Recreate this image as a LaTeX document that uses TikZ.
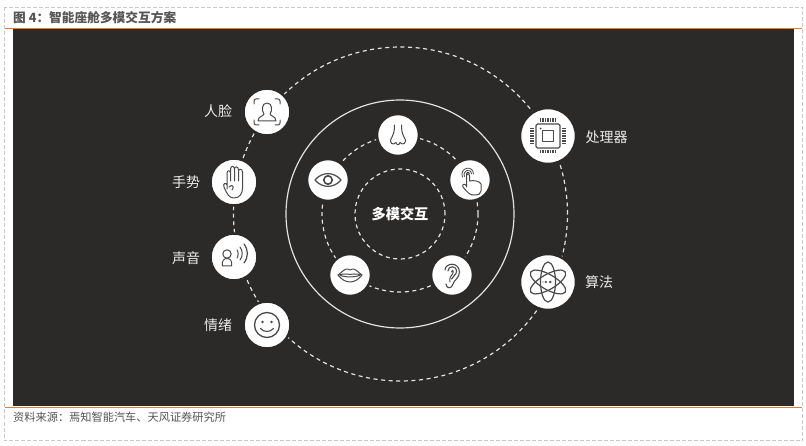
\documentclass[tikz,border=0pt]{standalone}
\usepackage{fontspec}
\setmainfont{Noto Sans CJK SC}
\definecolor{panel}{HTML}{2B2A29}
\definecolor{rule}{HTML}{F47B20}
\definecolor{rulelow}{HTML}{D9813F}
\definecolor{frame}{HTML}{C8C8C8}
\definecolor{ink}{HTML}{555555}
\definecolor{icon}{HTML}{4A4A4A}
\definecolor{ring}{HTML}{E2E2E2}
\tikzset{
  hub/.style={circle,fill=white,draw=panel,line width=2.5pt,minimum size=#1,inner sep=0pt},
  dashring/.style={circle,draw=ring,line width=1.2pt,dash pattern=on 4pt off 3.6pt,minimum size=#1,inner sep=0pt},
  solidring/.style={circle,draw=ring,line width=1.2pt,minimum size=#1,inner sep=0pt},
  lab/.style={text=white!92!black,font=\fontsize{14}{16}\selectfont,inner sep=0pt,draw=none},
  ic/.style={draw=icon,line width=1pt,line cap=round,line join=round,fill=none}
}
\begin{document}
\begin{tikzpicture}[x=1pt,y=-1pt]
\useasboundingbox (0,0) rectangle (806,446);
\fill[white] (0,0) rectangle (806,446);
\fill[panel] (13,29) rectangle (794,406);
\draw[frame,line width=1pt,dash pattern=on 4pt off 2pt] (4.5,7.5) rectangle (802.5,440.5);
\draw[rule,line width=1.4pt] (5,28.5) -- (802,28.5);
\draw[rulelow,line width=1pt] (5,407.3) -- (802,407.3);
\node[anchor=west,inner sep=0pt,text=ink,font=\fontsize{12.7}{14}\selectfont\bfseries] (title) at (13,18) {图 4：智能座舱多模交互方案};
\node[anchor=west,inner sep=0pt,text=ink,font=\fontsize{11.2}{13}\selectfont] (source) at (13,417) {资料来源：焉知智能汽车、天风证券研究所};
% rings
\node[dashring=334pt] (outer) at (400.5,214) {};
\node[solidring=228pt] (solid) at (400,214) {};
\node[dashring=156pt] (middle) at (400,214) {};
\node[dashring=90pt] (inner) at (400,214) {};
\node[text=white,font=\fontsize{14.2}{16}\selectfont\bfseries,inner sep=0pt] (center) at (400,214) {多模交互};
% hubs
\node[hub=47pt] (face) at (267,112) {};
\node[hub=47pt] (hand) at (234,182) {};
\node[hub=47pt] (voice) at (234,257) {};
\node[hub=47pt] (smile) at (267,325) {};
\node[hub=56pt] (chip) at (548,136) {};
\node[hub=56pt] (atom) at (548,282) {};
\node[hub=42pt] (nose) at (398,135) {};
\node[hub=42pt] (eye) at (328,180) {};
\node[hub=42pt] (touch) at (470,180) {};
\node[hub=42pt] (lips) at (350,275) {};
\node[hub=42pt] (ear) at (452,275) {};
% labels
\node[lab] (lface) at (218,111) {人脸};
\node[lab] (lhand) at (186,182) {手势};
\node[lab] (lvoice) at (186,258) {声音};
\node[lab] (lsmile) at (218,325) {情绪};
\node[lab] (lchip) at (606.5,137) {处理器};
\node[lab] (latom) at (599,282) {算法};
% face icon
\begin{scope}[shift={(267,112)}]
\draw[ic] (-13,-8) -- (-13,-11) arc[start angle=180,end angle=270,radius=2] -- (-8,-13);
\draw[ic] (13,-8) -- (13,-11) arc[start angle=0,end angle=-90,radius=2] -- (8,-13);
\draw[ic] (-13,8) -- (-13,11) arc[start angle=180,end angle=90,radius=2] -- (-8,13);
\draw[ic] (13,8) -- (13,11) arc[start angle=0,end angle=90,radius=2] -- (8,13);
\draw[ic] (-3,2) .. controls (-5.5,-1) and (-5.5,-9) .. (0,-9) .. controls (5.5,-9) and (5.5,-1) .. (3,2) .. controls (3,4) and (9,4) .. (9,9) -- (-9,9) .. controls (-9,4) and (-3,4) .. (-3,2) -- cycle;
\end{scope}
% hand icon
\begin{scope}[shift={(234,182)}]
\draw[ic] (-7,7) -- (-7,-9) .. controls (-7,-12) and (-3.5,-12) .. (-3.5,-9) -- (-3.5,-1)
 (-3.5,-9) -- (-3.5,-13) .. controls (-3.5,-16.5) and (0.5,-16.5) .. (0.5,-13) -- (0.5,-1)
 (0.5,-13) .. controls (0.5,-16) and (4.5,-16) .. (4.5,-12) -- (4.5,-1)
 (4.5,-11) .. controls (4.5,-13.5) and (8.5,-13.5) .. (8.5,-10) -- (8.5,6) .. controls (8.5,11) and (6,16) .. (0,16) .. controls (-5,16) and (-7,12) .. (-10,5) .. controls (-11.5,1.5) and (-8,0) .. (-7,3);
\draw[ic] (-5,5) .. controls (-2,2) and (1,4) .. (-2,8);
\end{scope}
% voice icon
\begin{scope}[shift={(234,257)}]
\draw[ic] (-7,-3) circle[radius=4.2];
\draw[ic] (-11.5,9) .. controls (-13,3) and (-9,1.5) .. (-7,1.5) .. controls (-5,1.5) and (-1,3) .. (-2.5,9) -- cycle;
\draw[ic] (3,-7) .. controls (4.5,-5) and (4.5,-1) .. (3,1);
\draw[ic] (6,-10) .. controls (9,-6) and (9,-1) .. (6,3);
\draw[ic,line width=1.2pt] (10,-13) .. controls (14.5,-7) and (14.5,0) .. (10,6);
\end{scope}
% smile icon
\begin{scope}[shift={(267,325)}]
\draw[ic,line width=1.3pt] (0,0) circle[radius=12.5];
\fill[icon] (-4.5,-3) circle[radius=1.4] (4.5,-3) circle[radius=1.4];
\draw[ic,line width=1.1pt] (-6.5,3.5) .. controls (-3,7.5) and (3,7.5) .. (6.5,3.5);
\end{scope}
% chip icon
\begin{scope}[shift={(548,136)}]
\draw[ic,line width=1.2pt,rounded corners=1.5pt] (-12,-12) rectangle (12,12);
\draw[ic,line width=1.2pt] (-5.5,-5.5) rectangle (5.5,5.5);
\fill[icon] (-7.5,-7.5) circle[radius=1];
\foreach \k in {-7.5,-5,-2.5,0,2.5,5,7.5}{
  \draw[icon,line width=1.3pt] (\k,-17.5) -- (\k,-14);
  \draw[icon,line width=1.3pt] (\k,14) -- (\k,17.5);
  \draw[icon,line width=1.3pt] (-18,\k) -- (-14,\k);
  \draw[icon,line width=1.3pt] (14,\k) -- (18,\k);
}
\end{scope}
% atom icon
\begin{scope}[shift={(548,282)}]
\draw[ic,line width=1.2pt] (0,0) circle[x radius=7.5,y radius=20];
\draw[ic,line width=1.2pt,rotate=60] (0,0) circle[x radius=7.5,y radius=20];
\draw[ic,line width=1.2pt,rotate=-60] (0,0) circle[x radius=7.5,y radius=20];
\fill[icon] (-2.2,0) circle[radius=1.3] (2.2,0) circle[radius=1.3] (-5,0) circle[radius=0.6];
\end{scope}
% nose icon
\begin{scope}[shift={(398,135)}]
\draw[ic] (-3.5,-10) .. controls (-3.5,-5) and (-4,-2) .. (-6,2) .. controls (-8.5,5) and (-7.5,9) .. (-4.5,9) .. controls (-3,9) and (-2.5,8) .. (-2,7.5) .. controls (-1,10.5) and (1,10.5) .. (2,7.5) .. controls (2.5,8) and (3,9) .. (4.5,9) .. controls (7.5,9) and (8.5,5) .. (6,2) .. controls (4,-2) and (3.5,-5) .. (3.5,-10);
\end{scope}
% eye icon
\begin{scope}[shift={(328,180)}]
\draw[ic,line width=1.2pt] (-13,0) .. controls (-6,-8.5) and (6,-8.5) .. (13,0) .. controls (6,8.5) and (-6,8.5) .. (-13,0) -- cycle;
\draw[ic,line width=1.6pt] (0,0) circle[radius=4.2];
\end{scope}
% touch icon
\begin{scope}[shift={(470,180)}]
\draw[ic,line width=0.8pt] (-7.5,-3) .. controls (-11,-12) and (3,-16) .. (3.5,-6);
\draw[ic,line width=0.8pt] (-5.5,-3.5) .. controls (-8,-9.5) and (1,-12.5) .. (1.5,-6);
\draw[ic,line width=0.8pt] (-3.5,-4) .. controls (-5,-8) and (-0.5,-9) .. (-0.5,-6);
\draw[ic] (-3.5,7) -- (-3.5,-4.5) .. controls (-3.5,-7) and (-0.5,-7) .. (-0.5,-4.5) -- (-0.5,1) .. controls (3,0) and (10,1) .. (11,4) -- (11,11) .. controls (11,14) and (8,15) .. (6,15) -- (3,15) .. controls (0,15) and (-3,12) .. (-7,7) .. controls (-8.5,4) and (-5,3) .. (-3.5,6);
\end{scope}
% lips icon
\begin{scope}[shift={(350,275)}]
\draw[ic] (-12,0) .. controls (-8,-3) and (-5,-6.5) .. (-2.5,-6) .. controls (-1,-5.7) and (-0.5,-5) .. (0,-5) .. controls (0.5,-5) and (1,-5.7) .. (2.5,-6) .. controls (5,-6.5) and (8,-3) .. (12,0) .. controls (8,5) and (4,7) .. (0,7) .. controls (-4,7) and (-8,5) .. (-12,0) -- cycle;
\draw[ic] (-12,0) .. controls (-6,-1.5) and (-2,-1) .. (0,-0.5) .. controls (2,-1) and (6,-1.5) .. (12,0);
\draw[ic] (-10,0.2) .. controls (-5,2.5) and (5,2.5) .. (10,0.2);
\end{scope}
% ear icon
\begin{scope}[shift={(452,275)}]
\draw[ic,line width=1.1pt] (-7,-5) .. controls (-7,-12) and (7,-14) .. (7.5,-3) .. controls (7.5,3) and (2,5) .. (1,9) .. controls (0,14) and (-6,14) .. (-6,9);
\draw[ic,line width=1.1pt] (-4,-4) .. controls (-4,-9.5) and (4.5,-10) .. (4.5,-3.5) .. controls (4.5,0) and (0.5,1) .. (-0.5,4);
\draw[ic] (-0.5,-3) .. controls (0,-6) and (2.5,-4) .. (0.5,-1) .. controls (-1,0.5) and (-3,3) .. (-2,7);
\end{scope}
\end{tikzpicture}
\end{document}
